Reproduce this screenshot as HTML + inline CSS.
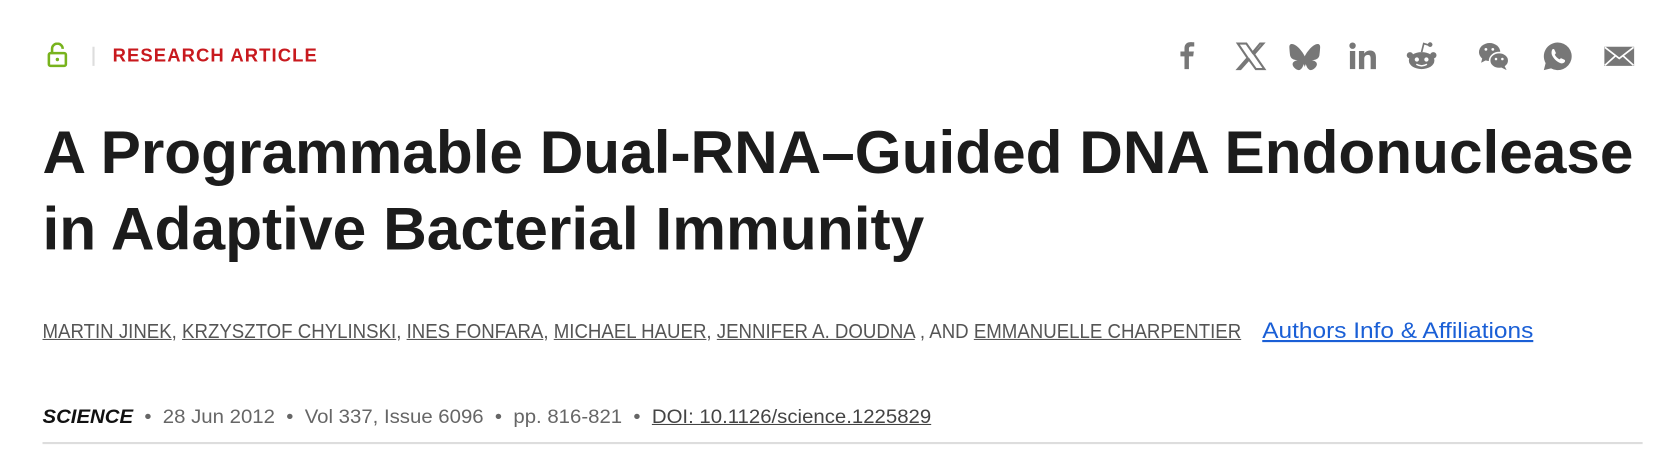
<!DOCTYPE html>
<html><head><meta charset="utf-8">
<style>
html,body{margin:0;padding:0;background:#fff;width:1666px;height:456px;overflow:hidden;font-family:"Liberation Sans",Arial,sans-serif}
#wrap{position:absolute;left:0;top:0;width:1568px;height:430px;transform:scale(1.0625);transform-origin:0 0}
.a{position:absolute;white-space:nowrap;transform-origin:0 0;line-height:1}
.icon{position:absolute;top:38px;width:30px;height:30px}
a{color:inherit}
</style></head><body>
<div id="wrap">
<svg style="position:absolute;left:44px;top:40px" width="20" height="24" viewBox="0 0 20 24"><path d="M5 10V6a5 5 0 0 1 10 0" fill="none" stroke="#78b31d" stroke-width="2.4"/><rect x="2" y="10" width="16" height="12" rx="1.5" fill="none" stroke="#78b31d" stroke-width="2.4"/><circle cx="10" cy="16" r="1.6" fill="#78b31d"/></svg>
<div style="position:absolute;left:87px;top:44px;width:2px;height:18px;background:#ddd"></div>
<div class="a" data-w="193" style="left:106px;top:44px;font-size:17px;font-weight:bold;color:#c8191e;letter-spacing:1px">RESEARCH ARTICLE</div>

<svg class="icon" style="left:1102px" viewBox="0 0 30 30"><path d="M17 29V17h4l.6-4.5H17V10c0-1.3.4-2.2 2.3-2.2H22V3.8c-.5 0-1.9-.2-3.5-.2-3.4 0-5.7 2-5.7 5.9v3H9V17h3.8v12z" fill="#777" transform="translate(0,-2)"/></svg>
<svg class="icon" style="left:1162px" viewBox="0 0 30 30"><path d="M3 3h8l6 8.5L24 3h3l-8.7 10L28 27h-8l-6.5-9L5.5 27H3l9.2-10.5z" fill="none" stroke="#777" stroke-width="2"/></svg>
<svg class="icon" style="left:1213px" viewBox="0 0 30 30"><path d="M7 5c3.5 2.5 7 7.5 8 10 1-2.5 4.5-7.5 8-10 2.5-1.8 6.5-3 6.5 1.3 0 .9-.5 7.2-.8 8.2-1 3.5-4.6 4.4-7.800 3.9 5.600 1 7 4.100 4 7.300-5.800 6-8.300-1.500-9-3.400L15 25l-.9-2.700c-.7 1.900-3.200 9.400-9 3.400-3-3.200-1.600-6.300 4-7.300-3.200.5-6.800-.4-7.800-3.900C1 13.500.5 7.200.5 6.300.5 2 4.500 3.200 7 5z" fill="#777"/></svg>
<svg class="icon" style="left:1267px" viewBox="0 0 30 30"><circle cx="6" cy="5" r="3" fill="#777"/><rect x="3.5" y="10" width="5" height="17" fill="#777"/><path d="M12 10h5v2.5c1-1.8 3-3 5.500-3 4 0 5.500 2.500 5.500 6.500V27h-5V17c0-2-.6-3.300-2.500-3.300S17 15 17 17v10h-5z" fill="#777"/></svg>
<svg class="icon" style="left:1323px" viewBox="0 0 30 30"><ellipse cx="15" cy="19" rx="12" ry="8" fill="#777"/><circle cx="4" cy="14" r="3" fill="#777"/><circle cx="26" cy="14" r="3" fill="#777"/><path d="M15 11l2-8 5 1.5" fill="none" stroke="#777" stroke-width="1.6"/><circle cx="23" cy="4" r="2.2" fill="#777"/><circle cx="10.500" cy="18" r="2" fill="#fff"/><circle cx="19.500" cy="18" r="2" fill="#fff"/><path d="M10 22.500q5 3 10 0" fill="none" stroke="#fff" stroke-width="1.4"/></svg>
<svg class="icon" style="left:1391px" viewBox="0 0 30 30"><ellipse cx="11" cy="11" rx="10" ry="8.500" fill="#777"/><path d="M4 17l-1 4 5-2.500z" fill="#777"/><ellipse cx="20" cy="19" rx="9" ry="7.500" fill="#777" stroke="#fff" stroke-width="1.500"/><path d="M25 24l2 4-5-2.500z" fill="#777"/><circle cx="7.500" cy="8.500" r="1.300" fill="#fff"/><circle cx="14" cy="8.500" r="1.300" fill="#fff"/><circle cx="17" cy="17.500" r="1.200" fill="#fff"/><circle cx="23" cy="17.500" r="1.200" fill="#fff"/></svg>
<svg class="icon" style="left:1451px" viewBox="0 0 30 30"><path d="M15 2a13 13 0 0 0-11.300 19.400L2 28l6.800-1.700A13 13 0 1 0 15 2z" fill="#777"/><path d="M10 8.500c.8-.6 1.600-.5 2 .3l1.300 2.800c.2.600-.5 1.300-1 1.800 1 2 2.600 3.500 4.500 4.500.5-.5 1.200-1.300 1.800-1l2.800 1.300c.8.400.8 1.400.2 2.200-1 1.300-2.500 1.600-4 1-3.500-1.300-6.500-4.300-8-7.800-.6-1.800-.4-3.600.4-5.100z" fill="#fff"/></svg>
<svg class="icon" style="left:1509px" viewBox="0 0 30 30"><rect x="1" y="6" width="28" height="18" fill="#777"/><path d="M1.500 6.500L15 17 28.500 6.500M1.500 23.500l10-9M28.500 23.500l-10-9" fill="none" stroke="#fff" stroke-width="1.600"/></svg>

<div class="a" data-w="1497" style="left:40px;top:116px;font-size:57px;font-weight:bold;color:#1c1c1c">A Programmable Dual-RNA–Guided DNA Endonuclease</div>
<div class="a" data-w="830" style="left:40px;top:188px;font-size:57px;font-weight:bold;color:#1c1c1c">in Adaptive Bacterial Immunity</div>

<div class="a" data-w="1128" style="left:40px;top:303px;font-size:19px;color:#555"><u>MARTIN JINEK</u>, <u>KRZYSZTOF CHYLINSKI</u>, <u>INES FONFARA</u>, <u>MICHAEL HAUER</u>, <u>JENNIFER A. DOUDNA</u> , AND <u>EMMANUELLE CHARPENTIER</u></div>
<div class="a" data-w="255" style="left:1188px;top:301px;font-size:21px;color:#1a5fd6"><u>Authors Info &amp; Affiliations</u></div>

<div class="a" data-w="836" style="left:40px;top:383px;font-size:18px;color:#666"><b style="color:#111;font-style:italic">SCIENCE</b> &nbsp;•&nbsp; 28 Jun 2012 &nbsp;•&nbsp; Vol 337, Issue 6096 &nbsp;•&nbsp; pp. 816-821 &nbsp;•&nbsp; <u style="color:#444">DOI: 10.1126/science.1225829</u></div>
<div style="position:absolute;left:40px;top:416px;width:1506px;height:2px;background:#ddd"></div>
</div>
<script>
document.querySelectorAll('[data-w]').forEach(function(e){var w=e.offsetWidth;var t=+e.getAttribute('data-w');e.style.transform='scaleX('+(t/w)+')';});
</script>
</body></html>
